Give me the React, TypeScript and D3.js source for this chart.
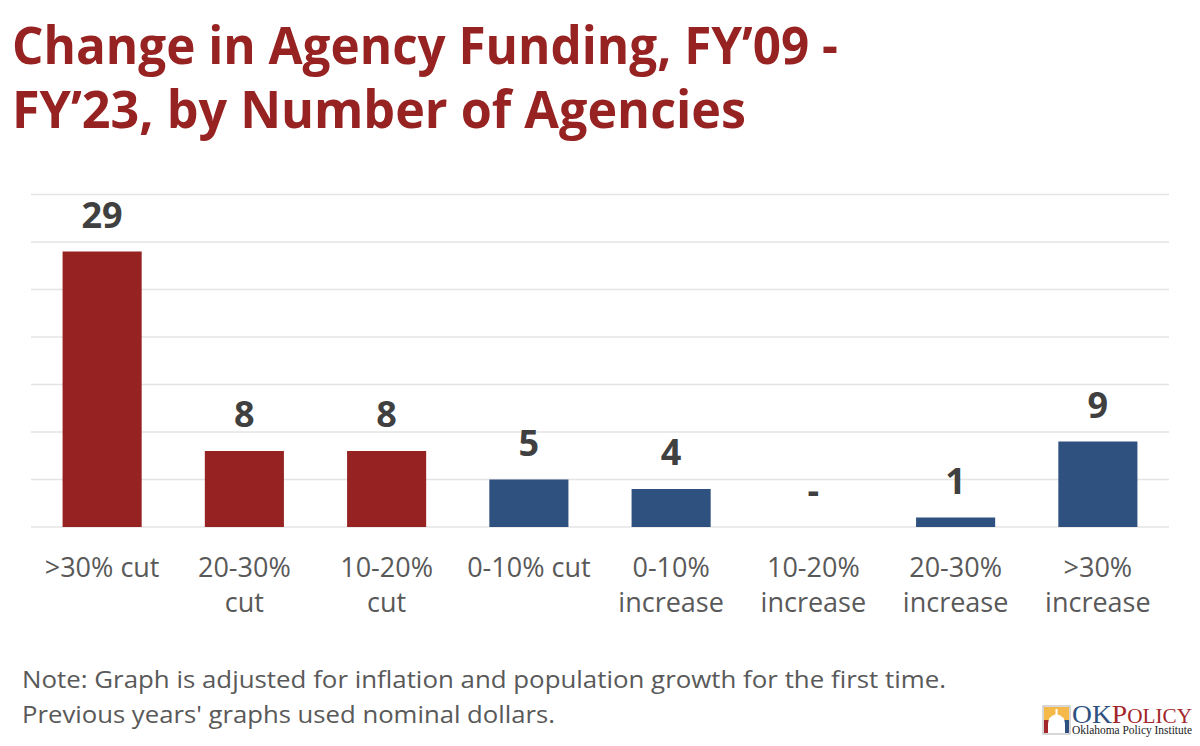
import React from 'react';
import * as d3 from 'd3';

// Agency counts by funding change bucket, FY'09 - FY'23
const categories = [
  '>30% cut',
  '20-30% cut',
  '10-20% cut',
  '0-10% cut',
  '0-10% increase',
  '10-20% increase',
  '20-30% increase',
  '>30% increase',
];
const agencyCounts = [29, 8, 8, 5, 4, 0, 1, 9];
const categoryLines = [
  ['>30% cut'],
  ['20-30%', 'cut'],
  ['10-20%', 'cut'],
  ['0-10% cut'],
  ['0-10%', 'increase'],
  ['10-20%', 'increase'],
  ['20-30%', 'increase'],
  ['>30%', 'increase'],
];
const redCategories = new Set(['>30% cut', '20-30% cut', '10-20% cut']);
const yTicks = [0, 5, 10, 15, 20, 25, 30, 35];

const WIDTH = 1200;
const HEIGHT = 746;
const RED = '#962322';
const BLUE = '#2e5180';
const FONT = '"Open Sans", "Noto Sans", sans-serif';
const SERIF = '"Liberation Serif", "DejaVu Serif", serif';

const margin = { left: 31, right: 31, top: 194.5, bottom: 219 };

export default function App() {
  const x = d3
    .scaleBand<string>()
    .domain(categories)
    .range([margin.left, WIDTH - margin.right])
    .paddingInner(0.444)
    .paddingOuter(0.222);

  const y = d3
    .scaleLinear()
    .domain([0, 35])
    .range([HEIGHT - margin.bottom, margin.top]);

  const data = categories.map((c, i) => ({ c, v: agencyCounts[i], lines: categoryLines[i] }));
  const cx = (c: string) => (x(c) ?? 0) + x.bandwidth() / 2;

  return (
    <svg
      width={WIDTH}
      height={HEIGHT}
      viewBox={`0 0 ${WIDTH} ${HEIGHT}`}
      style={{ position: 'absolute', left: 0, top: 0, background: '#fff' }}
    >
      <rect x={0} y={0} width={WIDTH} height={HEIGHT} fill="#fff" />

      {/* Title */}
      <g fill={RED} fontFamily={FONT} fontWeight={700} fontSize={52}>
        <text x={12} y={64} textLength={826} lengthAdjust="spacingAndGlyphs">
          Change in Agency Funding, FY’09 -
        </text>
        <text x={12} y={128} textLength={734} lengthAdjust="spacingAndGlyphs">
          FY’23, by Number of Agencies
        </text>
      </g>

      {/* Gridlines */}
      <g>
        {yTicks.map(t => (
          <line
            key={t}
            x1={margin.left}
            x2={WIDTH - margin.right}
            y1={y(t)}
            y2={y(t)}
            stroke="#e4e4e4"
            strokeWidth={1.3}
          />
        ))}
      </g>

      {/* Bars */}
      <g>
        {data.map(d => (
          <rect
            key={d.c}
            x={x(d.c)}
            y={y(d.v)}
            width={x.bandwidth()}
            height={y(0) - y(d.v)}
            fill={redCategories.has(d.c) ? RED : BLUE}
          />
        ))}
      </g>

      {/* Value labels */}
      <g fill="#404040" fontFamily={FONT} fontWeight={700} fontSize={36} textAnchor="middle">
        {data.map(d => (
          <text key={d.c} x={cx(d.c)} y={y(d.v) - 24}>
            {d.v === 0 ? '-' : d.v}
          </text>
        ))}
      </g>

      {/* Category labels */}
      <g fill="#595959" fontFamily={FONT} fontSize={27} textAnchor="middle">
        {data.map(d => (
          <text key={d.c} x={cx(d.c)} y={y(0) + 50}>
            {d.lines.map((ln, j) => (
              <tspan key={j} x={cx(d.c)} dy={j === 0 ? 0 : 35}>
                {ln}
              </tspan>
            ))}
          </text>
        ))}
      </g>

      {/* Note */}
      <g fill="#595959" fontFamily={FONT} fontSize={24}>
        <text x={22} y={688} textLength={924} lengthAdjust="spacingAndGlyphs">
          Note: Graph is adjusted for inflation and population growth for the first time.
        </text>
        <text x={22} y={723} textLength={533} lengthAdjust="spacingAndGlyphs">
          Previous years' graphs used nominal dollars.
        </text>
      </g>

      {/* OK Policy logo */}
      <g>
        <rect x={1043} y={706} width={27} height={28} fill="#fff" stroke="#b0b0b0" strokeWidth={1} />
        <rect x={1044} y={707} width={25} height={13} fill="#f5b94a" />
        <rect x={1044} y={720} width={12.5} height={13} fill="#a3262a" />
        <rect x={1056.5} y={720} width={12.5} height={13} fill="#2e5180" />
        <path
          d="M1048,733 L1048,724 Q1048,716 1056.5,714 Q1065,716 1065,724 L1065,733 Z"
          fill="#fff"
        />
        <rect x={1055.5} y={709} width={2} height={6} fill="#fff" />
        <text x={1072} y={723} fontFamily={SERIF} fontSize={26} textLength={120} lengthAdjust="spacingAndGlyphs">
          <tspan fill="#2e5180">OK</tspan>
          <tspan fill="#a3262a">P</tspan>
          <tspan fill="#a3262a" fontSize={20}>OLICY</tspan>
        </text>
        <text
          x={1072}
          y={734}
          fontFamily={SERIF}
          fontSize={12}
          fill="#222"
          textLength={120}
          lengthAdjust="spacingAndGlyphs"
        >
          Oklahoma Policy Institute
        </text>
      </g>
    </svg>
  );
}
